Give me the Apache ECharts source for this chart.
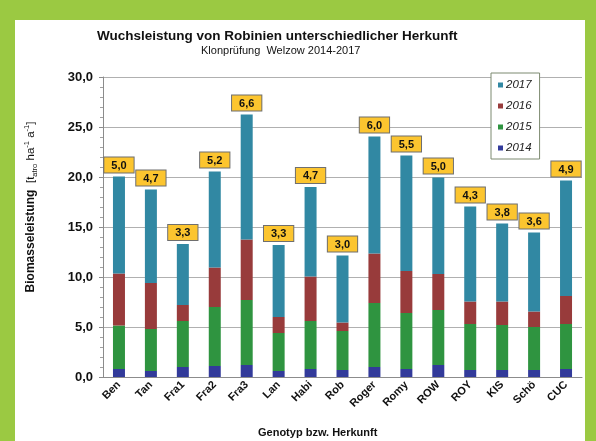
<!DOCTYPE html>
<html>
<head>
<meta charset="utf-8">
<script src="https://cdn.jsdelivr.net/npm/echarts@6/dist/echarts.min.js"></script>
<style>
  html, body { margin: 0; padding: 0; }
  body { width: 596px; height: 441px; background: #9bc942; position: relative; overflow: hidden; }
  #chart { position: absolute; left: 15px; top: 20px; width: 570px; height: 421px; background: #fff; }
</style>
</head>
<body>
<div id="chart"></div>
<script>
// Genotypen / Herkünfte
var categories = ['Ben', 'Tan', 'Fra1', 'Fra2', 'Fra3', 'Lan', 'Habi', 'Rob', 'Roger', 'Romy', 'ROW', 'ROY', 'KIS', 'Schö', 'CUC'];
// Zuwachs je Jahr (t atro / ha)
var y2014 = [0.8, 0.6, 1.0, 1.1, 1.2, 0.6, 0.8, 0.7, 1.0, 0.8, 1.2, 0.7, 0.7, 0.7, 0.8];
var y2015 = [4.35, 4.2, 4.6, 5.9, 6.5, 3.8, 4.8, 3.9, 6.4, 5.6, 5.5, 4.6, 4.5, 4.3, 4.5];
var y2016 = [5.2, 4.6, 1.6, 3.95, 6.05, 1.6, 4.45, 0.85, 4.95, 4.2, 3.6, 2.25, 2.35, 1.55, 2.8];
var y2017 = [9.7, 9.35, 6.1, 9.6, 12.5, 7.2, 8.95, 6.7, 11.7, 11.55, 9.65, 9.5, 7.8, 7.9, 11.55];
// mittlere Jahresleistung (Beschriftung über den Säulen)
var avgLabels = ['5,0', '4,7', '3,3', '5,2', '6,6', '3,3', '4,7', '3,0', '6,0', '5,5', '5,0', '4,3', '3,8', '3,6', '4,9'];

var colors = {
    '2014': '#323a9a',
    '2015': '#2f9440',
    '2016': '#983b3b',
    '2017': '#3188a3'
};
var font = 'Arial, "Liberation Sans", sans-serif';

function barSeries(name, values) {
    return {
        name: name,
        type: 'bar',
        stack: 'total',
        barWidth: 12,
        data: values,
        itemStyle: { color: colors[name] }
    };
}

var topSeries = barSeries('2017', y2017);
topSeries.label = {
    show: true,
    position: 'top',
    distance: 4,
    formatter: function(p) { return avgLabels[p.dataIndex]; },
    backgroundColor: '#fcc52f',
    borderColor: '#6f6f6f',
    borderWidth: 1,
    padding: [2, 7, 1, 7],
    color: '#111',
    fontFamily: font,
    fontWeight: 'bold',
    fontSize: 11,
    lineHeight: 12
};

var chart = echarts.init(document.getElementById('chart'));
chart.setOption({
    animation: false,
    textStyle: { fontFamily: font },
    graphic: [
        {
            type: 'text', left: 82, top: 9,
            style: { text: 'Wuchsleistung von Robinien unterschiedlicher Herkunft', font: 'bold 13.5px ' + font, fill: '#111' }
        },
        {
            type: 'text', left: 186, top: 25,
            style: { text: 'Klonprüfung  Welzow 2014-2017', font: '11px ' + font, fill: '#111' }
        },
        {
            type: 'text', left: 243, top: 407,
            style: { text: 'Genotyp bzw. Herkunft', font: 'bold 11px ' + font, fill: '#111' }
        }
    ],
    legend: {
        data: ['2017', '2016', '2015', '2014'],
        orient: 'vertical',
        left: 476,
        top: 53,
        itemWidth: 5,
        itemHeight: 5,
        itemGap: 9,
        padding: [6, 8, 5, 7],
        borderColor: '#7d8a70',
        borderWidth: 1,
        backgroundColor: '#fff',
        icon: 'rect',
        textStyle: { fontFamily: font, fontStyle: 'italic', fontSize: 11.5, color: '#222', padding: [0, 0, 0, -2] }
    },
    grid: { left: 82, right: 3, top: 57, bottom: 64 },
    xAxis: {
        type: 'category',
        data: categories,
        axisLine: { lineStyle: { color: '#8c8c8c' } },
        axisTick: { length: 4, lineStyle: { color: '#8c8c8c' } },
        axisLabel: { rotate: 45, margin: 6, fontSize: 11, fontWeight: 'bold', color: '#111', fontFamily: font }
    },
    yAxis: {
        type: 'value',
        min: 0,
        max: 30,
        interval: 5,
        name: '{b|Biomasseleistung}  {n|[t}{sub|atro}{n| ha}{sup|-1}{n| a}{sup|-1}{n|]}',
        nameLocation: 'middle',
        nameGap: 64,
        nameRotate: 90,
        nameTextStyle: {
            padding: [0, 0, 0, 40],
            rich: {
                b: { fontSize: 12, fontWeight: 'bold', color: '#111', fontFamily: font, lineHeight: 16 },
                n: { fontSize: 11.5, color: '#111', fontFamily: font, lineHeight: 16 },
                sub: { fontSize: 7.5, color: '#111', fontFamily: font, lineHeight: 16, verticalAlign: 'bottom', padding: [6, 0, 0, 0] },
                sup: { fontSize: 7.5, color: '#111', fontFamily: font, lineHeight: 16, verticalAlign: 'top', padding: [0, 0, 6, 0] }
            }
        },
        axisLine: { show: true, lineStyle: { color: '#8c8c8c' } },
        axisTick: { show: true, length: 4, lineStyle: { color: '#8c8c8c' } },
        minorTick: { show: true, splitNumber: 5, length: 3, lineStyle: { color: '#a0a0a0' } },
        splitLine: { lineStyle: { color: '#b0b0b0' } },
        axisLabel: {
            margin: 10,
            fontSize: 13,
            fontWeight: 'bold',
            color: '#111',
            fontFamily: font,
            formatter: function(v) { return v.toFixed(1).replace('.', ','); }
        }
    },
    series: [
        barSeries('2014', y2014),
        barSeries('2015', y2015),
        barSeries('2016', y2016),
        topSeries
    ]
});
</script>
</body>
</html>
